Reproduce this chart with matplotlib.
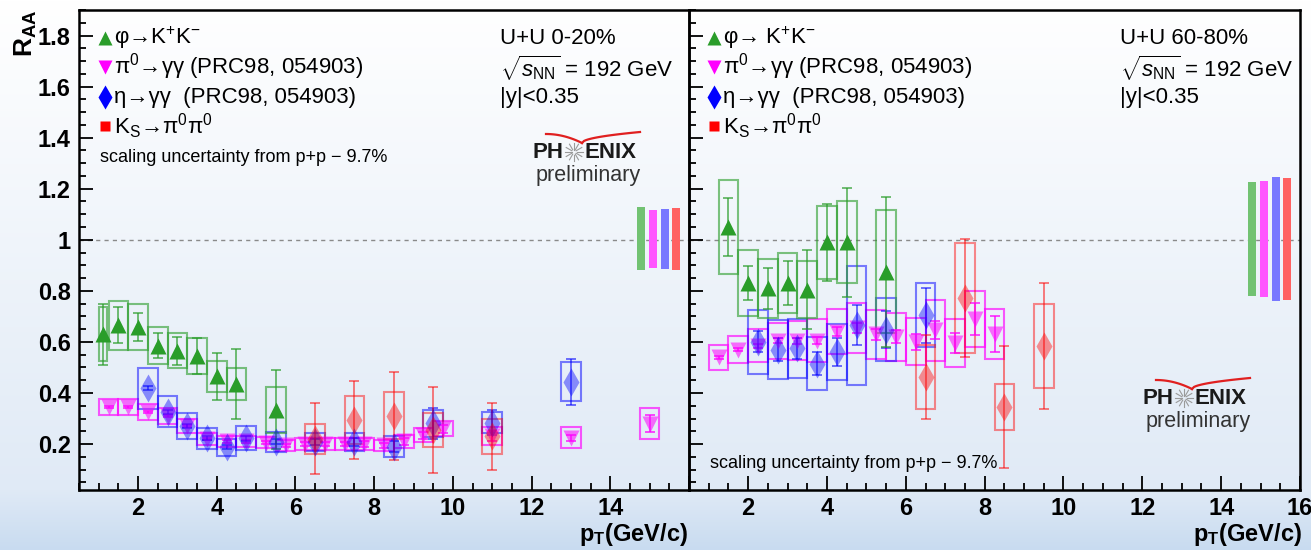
import numpy as np
import matplotlib.pyplot as plt
from matplotlib.ticker import MultipleLocator

plt.rcParams['font.family'] = ['Liberation Sans', 'DejaVu Sans']
plt.rcParams['mathtext.fontset'] = 'custom'
plt.rcParams['mathtext.rm'] = 'Liberation Sans'
plt.rcParams['mathtext.it'] = 'Liberation Sans:italic'
plt.rcParams['mathtext.bf'] = 'Liberation Sans:bold'

# ---------------- U+U 0-20% ----------------
phi_x_c = [1.1, 1.5, 2.0, 2.5, 3.0, 3.5, 4.0, 4.5, 5.5]
phi_y_c = [0.63, 0.665, 0.66, 0.585, 0.565, 0.545, 0.465, 0.435, 0.335]
phi_stat_c = [0.12, 0.07, 0.055, 0.048, 0.054, 0.07, 0.092, 0.137, 0.155]
phi_sys_c = [0.105, 0.096, 0.09, 0.072, 0.068, 0.07, 0.062, 0.064, 0.09]

pi0_x_c = [1.25, 1.75, 2.25, 2.75, 3.25, 3.75, 4.25, 4.75, 5.25, 5.75, 6.25,
           6.75, 7.25, 7.75, 8.25, 8.75, 9.25, 9.75, 11.0, 13.0, 15.0]
pi0_y_c = [0.345, 0.345, 0.325, 0.31, 0.27, 0.22, 0.21, 0.21, 0.205, 0.195, 0.20,
           0.20, 0.20, 0.20, 0.195, 0.21, 0.235, 0.26, 0.23, 0.225, 0.28]
pi0_stat_c = [0.005, 0.005, 0.005, 0.005, 0.005, 0.005, 0.005, 0.005, 0.006, 0.006, 0.007,
              0.008, 0.008, 0.01, 0.01, 0.012, 0.014, 0.016, 0.02, 0.012, 0.033]
pi0_sys_c = [0.033, 0.032, 0.03, 0.03, 0.027, 0.024, 0.022, 0.022, 0.022, 0.022, 0.022,
             0.022, 0.022, 0.022, 0.022, 0.024, 0.027, 0.03, 0.035, 0.042, 0.062]

eta_x_c = [2.25, 2.75, 3.25, 3.75, 4.25, 4.75, 5.5, 6.5, 7.5, 8.5, 9.5, 11.0, 13.0]
eta_y_c = [0.418, 0.327, 0.27, 0.222, 0.187, 0.222, 0.209, 0.209, 0.209, 0.19, 0.281, 0.284, 0.444]
eta_stat_c = [0.008, 0.008, 0.008, 0.008, 0.008, 0.01, 0.01, 0.012, 0.015, 0.02, 0.06, 0.05, 0.09]
eta_sys_c = [0.08, 0.062, 0.05, 0.04, 0.034, 0.047, 0.039, 0.035, 0.036, 0.041, 0.052, 0.04, 0.077]

ks_x_c = [6.5, 7.5, 8.5, 9.5, 11.0]
ks_y_c = [0.22, 0.295, 0.31, 0.255, 0.23]
ks_stat_c = [0.139, 0.153, 0.174, 0.168, 0.131]
ks_sys_c = [0.058, 0.095, 0.092, 0.067, 0.069]

# normalisation bands (phi, pi0, eta, K_S)
norm_lo_c = [0.88, 0.889, 0.886, 0.882]
norm_hi_c = [1.128, 1.118, 1.12, 1.124]

# ---------------- U+U 60-80% ----------------
phi_x_p = [1.5, 2.0, 2.5, 3.0, 3.5, 4.0, 4.5, 5.5]
phi_y_p = [1.05, 0.83, 0.81, 0.83, 0.805, 0.99, 0.99, 0.875]
phi_stat_p = [0.112, 0.066, 0.08, 0.086, 0.154, 0.152, 0.214, 0.293]
phi_sys_p = [0.183, 0.13, 0.115, 0.118, 0.113, 0.144, 0.16, 0.242]

pi0_x_p = [1.25, 1.75, 2.25, 2.75, 3.25, 3.75, 4.25, 4.75, 5.25, 5.75, 6.25,
           6.75, 7.25, 7.75, 8.25]
pi0_y_p = [0.54, 0.57, 0.585, 0.605, 0.605, 0.605, 0.64, 0.655, 0.63, 0.62, 0.60,
           0.645, 0.595, 0.69, 0.63]
pi0_stat_p = [0.006, 0.006, 0.008, 0.01, 0.012, 0.014, 0.018, 0.02, 0.022, 0.026, 0.03,
              0.035, 0.04, 0.063, 0.07]
pi0_sys_p = [0.049, 0.054, 0.065, 0.07, 0.075, 0.085, 0.088, 0.097, 0.095, 0.094, 0.092,
             0.118, 0.095, 0.108, 0.098]

eta_x_p = [2.25, 2.75, 3.25, 3.75, 4.25, 4.75, 5.5, 6.5]
eta_y_p = [0.60, 0.57, 0.575, 0.515, 0.56, 0.665, 0.648, 0.705]
eta_stat_p = [0.041, 0.045, 0.04, 0.044, 0.055, 0.078, 0.072, 0.108]
eta_sys_p = [0.124, 0.115, 0.115, 0.105, 0.11, 0.234, 0.124, 0.126]

ks_x_p = [6.5, 7.5, 8.5, 9.5]
ks_y_p = [0.462, 0.772, 0.345, 0.584]
ks_stat_p = [0.165, 0.233, 0.24, 0.245]
ks_sys_p = [0.126, 0.216, 0.09, 0.166]

norm_lo_p = [0.78, 0.775, 0.761, 0.765]
norm_hi_p = [1.225, 1.231, 1.246, 1.242]

GREEN = '#2a9d2a'
MAGENTA = '#ff00ff'
BLUE = '#0000ff'
RED = '#ff0000'
NORM_COLORS = ['#72c272', '#ff55ff', '#7878ff', '#ff6262']

W, H = 1311, 550
fig = plt.figure(figsize=(W / 100, H / 100), dpi=100)

# slide background: white at the top fading to light blue
bg = fig.add_axes([0, 0, 1, 1], zorder=-10)
rows = np.linspace(0, 1, H)
top = np.array([1.0, 1.0, 1.0])
mid = np.array([224, 234, 246]) / 255
bot = np.array([200, 219, 240]) / 255
k = 490 / H
grad = np.where(rows[:, None] < k,
                top + (mid - top) * (rows[:, None] / k),
                mid + (bot - mid) * ((rows[:, None] - k) / (1 - k)))
bg.imshow(grad[:, None, :], aspect='auto', extent=[0, 1, 0, 1])
bg.axis('off')

x0, xm, x1 = 79 / W, 689 / W, 1300 / W
yb, yt = 1 - 490 / H, 1 - 10 / H
axL = fig.add_axes([x0, yb, xm - x0, yt - yb])
axR = fig.add_axes([xm, yb, x1 - xm, yt - yb])


def draw_species(ax, x, y, stat, sys, color, marker, ms, mk_alpha, box_alpha, box_w=0.5):
    y = np.asarray(y)
    sys = np.asarray(sys)
    ax.bar(x, 2 * sys, bottom=y - sys, width=box_w, fill=False,
           edgecolor=color, alpha=box_alpha, linewidth=1.5, zorder=2)
    ax.errorbar(x, y, yerr=stat, fmt='none', ecolor=color, alpha=min(1, box_alpha + 0.05),
                elinewidth=1.4, capsize=3.5, capthick=1.4, zorder=3)
    ax.plot(x, y, ls='none', marker=marker, ms=ms, color=color, alpha=mk_alpha,
            mec='none', zorder=4)


def draw_panel(ax, phi, pi0, eta, ks, norm_lo, norm_hi, first_narrow):
    draw_species(ax, *pi0, MAGENTA, 'v', 11.5, 0.55, 0.65)
    draw_species(ax, *eta, BLUE, 'd', 14, 0.42, 0.5)
    draw_species(ax, *ks, RED, 'd', 14, 0.42, 0.45)
    w = np.where(np.asarray(phi[0]) < 1.3, 0.2, 0.5) if first_narrow else 0.5
    draw_species(ax, *phi, GREEN, '^', 11, 1.0, 0.6, box_w=w)

    lo = np.asarray(norm_lo)
    hi = np.asarray(norm_hi)
    ax.bar(14.78 + 0.3 * np.arange(4), hi - lo, bottom=lo, width=0.2,
           color=NORM_COLORS, zorder=2)

    ax.axhline(1.0, color='#8a8a8a', lw=1.0, ls=(0, (3, 3)), zorder=1)

    ax.set_xlim(0.5, 16)
    ax.set_ylim(0.02, 1.9)
    ax.set_facecolor('none')
    ax.set_xticks(np.arange(2, 17, 2))
    ax.set_yticks([0.2, 0.4, 0.6, 0.8, 1.0, 1.2, 1.4, 1.6, 1.8])
    ax.xaxis.set_minor_locator(MultipleLocator(0.5))
    ax.yaxis.set_minor_locator(MultipleLocator(0.05))
    ax.tick_params(which='both', direction='in', top=False, right=False,
                   width=1.3, color='black')
    ax.tick_params(which='major', length=10, labelsize=17)
    ax.tick_params(which='minor', length=5)
    ax.tick_params(axis='x', which='major', pad=5)
    ax.tick_params(axis='y', which='major', pad=6)
    for sp in ax.spines.values():
        sp.set_linewidth(1.8)


draw_panel(axL,
           (phi_x_c, phi_y_c, phi_stat_c, phi_sys_c),
           (pi0_x_c, pi0_y_c, pi0_stat_c, pi0_sys_c),
           (eta_x_c, eta_y_c, eta_stat_c, eta_sys_c),
           (ks_x_c, ks_y_c, ks_stat_c, ks_sys_c),
           norm_lo_c, norm_hi_c, True)
draw_panel(axR,
           (phi_x_p, phi_y_p, phi_stat_p, phi_sys_p),
           (pi0_x_p, pi0_y_p, pi0_stat_p, pi0_sys_p),
           (eta_x_p, eta_y_p, eta_stat_p, eta_sys_p),
           (ks_x_p, ks_y_p, ks_stat_p, ks_sys_p),
           norm_lo_p, norm_hi_p, False)

axL.set_yticklabels(['0.2', '0.4', '0.6', '0.8', '1', '1.2', '1.4', '1.6', '1.8'],
                    fontweight='bold')
axL.set_xticklabels(['2', '4', '6', '8', '10', '12', '14', ''], fontweight='bold')
axR.set_yticklabels([])
axR.set_xticklabels(['2', '4', '6', '8', '10', '12', '14', '16'], fontweight='bold')

# overlay in pixel coordinates for labels, legends and logos
ov = fig.add_axes([0, 0, 1, 1], zorder=10)
ov.set_xlim(0, W)
ov.set_ylim(H, 0)
ov.axis('off')
ov.patch.set_alpha(0)

ov.text(26, 33, r'$\mathbf{R}_{\mathbf{AA}}$', rotation=90, ha='center', va='center',
        fontsize=19)
for xr in (688, 1302):
    ov.text(xr, 535, r'$\mathbf{p}_{\mathbf{T}}$(GeV/c)', ha='right', va='center',
            fontsize=17, fontweight='bold')

legend_rows = [38, 67, 97, 126]
legend_marks = [('^', GREEN, 10), ('v', MAGENTA, 10), ('d', BLUE, 12), ('s', RED, 7)]
labels_c = [r'φ→K$^{+}$K$^{-}$', r'π$^{0}$→γγ (PRC98, 054903)',
            r'η→γγ  (PRC98, 054903)', r'K$_{\mathrm{S}}$→π$^{0}$π$^{0}$']
labels_p = [r'φ→ K$^{+}$K$^{-}$', r'π$^{0}$→γγ (PRC98, 054903)',
            r'η→γγ  (PRC98, 054903)', r'K$_{\mathrm{S}}$→π$^{0}$π$^{0}$']

for mx, labels in ((105, labels_c), (714, labels_p)):
    for yy, (m, c, s), lab in zip(legend_rows, legend_marks, labels):
        ov.plot([mx], [yy], ls='none', marker=m, color=c, ms=s, mec='none')
        ov.text(mx + 9, yy, lab, ha='left', va='center', fontsize=16)

info_rows = [38, 68, 97]
for xl, cent in ((500, 'U+U 0-20%'), (1120, 'U+U 60-80%')):
    for yy, s in zip(info_rows, [cent, r'$\sqrt{s_{\mathrm{NN}}}$ = 192 GeV', '|y|<0.35']):
        ov.text(xl, yy, s, ha='left', va='center', fontsize=16)

ov.text(100, 157, 'scaling uncertainty from p+p − 9.7%', ha='left', va='center', fontsize=13)
ov.text(710, 463, 'scaling uncertainty from p+p − 9.7%', ha='left', va='center', fontsize=13)


def phenix_logo(cx, cy):
    ov.text(cx - 10, cy, 'PH', ha='right', va='center', fontsize=16, fontweight='bold',
            color='#1a1a1a')
    ov.text(cx + 10, cy, 'ENIX', ha='left', va='center', fontsize=16, fontweight='bold',
            color='#1a1a1a')
    ang = np.linspace(0, 2 * np.pi, 12, endpoint=False)
    for a in ang:
        ov.plot([cx + 2.5 * np.cos(a), cx + 9 * np.cos(a)],
                [cy + 2.5 * np.sin(a), cy + 9 * np.sin(a)], color='#9a9a9a', lw=0.8)
    s = np.linspace(0, 1, 30)
    ov.plot(cx - 28 + 36 * s, cy - 18 + 9 * s ** 2, color='#e02020', lw=1.6)
    ov.plot(cx + 8 + 58 * s, cy - 9 - 11 * np.sqrt(s), color='#e02020', lw=1.6)
    ov.text(cx + 14, cy + 24, 'preliminary', ha='center', va='center', fontsize=15.5,
            color='#333333')


phenix_logo(574, 152)
phenix_logo(1184, 398)

fig.savefig('out.png', dpi=100)
